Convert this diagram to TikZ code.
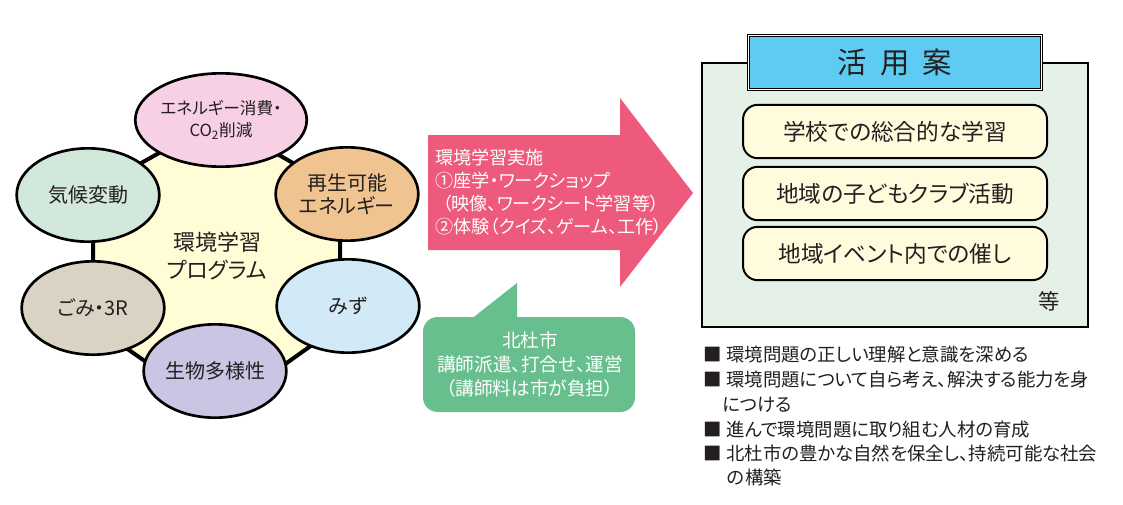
\documentclass[tikz,border=0pt]{standalone}
\usepackage{fontspec}
\setmainfont{Noto Sans CJK JP}[RawFeature=+palt]
\usetikzlibrary{shapes.geometric}
\definecolor{txt}{HTML}{231F20}
\definecolor{hexfill}{HTML}{FFFCD6}
\definecolor{cpink}{HTML}{F7D0E6}
\definecolor{corange}{HTML}{F0C490}
\definecolor{cgreen}{HTML}{D2E8DA}
\definecolor{ctan}{HTML}{DAD2C2}
\definecolor{cpurple}{HTML}{C9C5E3}
\definecolor{cblue}{HTML}{D2EAF8}
\definecolor{arrowpink}{HTML}{EE5A7C}
\definecolor{callgreen}{HTML}{66BF8C}
\definecolor{panelfill}{HTML}{E5F0E6}
\definecolor{titleblue}{HTML}{5ECBF2}
\definecolor{boxyellow}{HTML}{FFFBDD}
\begin{document}
\begin{tikzpicture}[x=0.75pt,y=-0.75pt,
  topic/.style={ellipse,draw=black,line width=2pt,minimum width=107pt,minimum height=70pt,
    inner sep=0pt,align=center,font=\fontsize{15}{17}\selectfont,text=txt},
  usebox/.style={rectangle,rounded corners=11pt,draw=black,line width=1.5pt,fill=boxyellow,
    minimum width=228pt,minimum height=40pt,inner sep=0pt,font=\fontsize{17}{20}\selectfont,text=txt},
  titlebox/.style={rectangle,fill=titleblue,draw=black,line width=0.8pt,double=white,double distance=0.8pt,
    minimum width=220pt,minimum height=41pt,inner sep=0pt,font=\fontsize{22}{24}\selectfont,text=txt},
  bullet/.style={anchor=west,inner sep=0pt,font=\fontsize{13.8}{16}\selectfont,text=txt}
]
\useasboundingbox (0,0) rectangle (1123,504);

% hexagon
\draw[line width=3pt,fill=hexfill,line join=round]
  (218,120) -- (340,190) -- (340,325) -- (218,412) -- (93,325) -- (93,190) -- cycle;
\node[align=center,inner sep=0pt,font=\fontsize{16.5}{21}\selectfont,text=txt] (prog) at (217,256) {環境学習\\プログラム};

% topics
\node[topic,fill=cpink,font=\fontsize{12.5}{16.5}\selectfont] (energy) at (221,120) {エネルギー消費・\\CO\textsubscript{2}削減};
\node[topic,fill=corange] (renew) at (347,194) {再生可能\\エネルギー};
\node[topic,fill=cblue] (water) at (348,306) {みず};
\node[topic,fill=cpurple] (bio) at (215,371) {生物多様性};
\node[topic,fill=ctan] (waste) at (93,308) {ごみ・3R};
\node[topic,fill=cgreen] (climate) at (88,195) {気候変動};

% big arrow
\fill[arrowpink] (428,135) -- (620,135) -- (620,98) -- (693,193) -- (620,287) -- (620,250) -- (428,250) -- cycle;
\node[anchor=north west,align=left,inner sep=0pt,text=white,font=\fontsize{13.6}{17.25}\selectfont] (impl) at (435,149)
  {環境学習実施\\①座学・ワークショップ\\\hspace{0.4em}（映像、ワークシート学習等）\\②体験（クイズ、ゲーム、工作）};

% callout
\fill[callgreen,rounded corners=11pt] (423,317) rectangle (635,412);
\fill[callgreen] (470,320) -- (517,283) -- (517,320) -- cycle;
\node[align=center,inner sep=0pt,text=white,font=\fontsize{14}{18}\selectfont] (city) at (530,365)
  {北杜市\\講師派遣、打合せ、運営\\（講師料は市が負担）};

% right panel
\draw[line width=2pt,fill=panelfill] (702,63) rectangle (1088,327);
\node[titlebox] (title) at (895,62.5) {活\hspace{0.45em}用\hspace{0.45em}案};
\node[usebox] (u1) at (895,131.5) {学校での総合的な学習};
\node[usebox] (u2) at (895,193.5) {地域の子どもクラブ活動};
\node[usebox] (u3) at (895,253.5) {地域イベント内での催し};
\node[inner sep=0pt,font=\fontsize{16}{18}\selectfont,text=txt] (etc) at (1049,301) {等};

% bullets
\node[bullet] (b1) at (703,355) {■\hspace{0.25em}環境問題の正しい理解と意識を深める};
\node[bullet] (b2) at (703,380) {■\hspace{0.25em}環境問題について自ら考え、解決する能力を身};
\node[bullet] (b2c) at (722,405) {につける};
\node[bullet] (b3) at (703,430) {■\hspace{0.25em}進んで環境問題に取り組む人材の育成};
\node[bullet] (b4) at (703,453) {■\hspace{0.25em}北杜市の豊かな自然を保全し、持続可能な社会};
\node[bullet] (b4c) at (727,477) {の構築};
\end{tikzpicture}
\end{document}
